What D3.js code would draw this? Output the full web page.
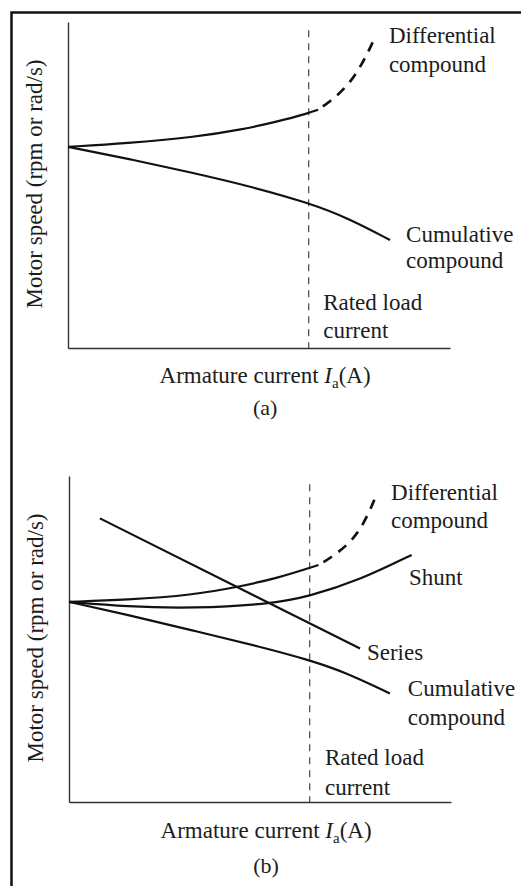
<!DOCTYPE html>
<html>
<head>
<meta charset="utf-8">
<script src="https://cdn.jsdelivr.net/npm/d3@7"></script>
<style>
  body { margin: 0; background: #fff; }
  text { font-family: "Liberation Serif", "Times New Roman", serif; fill: #1c1c1c; }
</style>
</head>
<body>
<div id="chart"></div>
<script>
// all values in axis units: armature current 0..10, motor speed 0..10
const ratedCurrent = 6.3;

// panel (a)
const diffA     = [[0,6.17],[1.54,6.28],[3.28,6.46],[4.59,6.71],[5.46,6.94],[6.29,7.20],[6.55,7.31]];
const diffDashA = [[6.55,7.31],[6.86,7.56],[7.30,8.01],[7.64,8.59],[7.85,9.06],[8.04,9.54]];
const cumA      = [[0,6.17],[1.6,5.80],[3.2,5.39],[4.7,4.98],[6.29,4.46],[7.4,3.95],[8.43,3.31]];

// panel (b)
const diffB     = [[0,6.14],[1.51,6.20],[3.25,6.35],[4.39,6.59],[5.44,6.86],[6.53,7.27]];
const diffDashB = [[6.53,7.27],[6.83,7.47],[7.36,7.94],[7.70,8.50],[7.96,9.16],[8.04,9.42]];
const shuntB    = [[0,6.14],[1.51,5.99],[3.25,5.94],[5.26,6.07],[6.27,6.30],[7.62,6.81],[8.97,7.58]];
const seriesB   = [[0.81,8.70],[7.62,4.71]];
const cumB      = [[0,6.14],[1.51,5.75],[3.25,5.26],[5.01,4.76],[6.27,4.36],[7.19,4.00],[8.40,3.33]];

// label text with anchor in axis units
const labelsA = [
  ["Differential", 8.40, 9.36], ["compound", 8.40, 8.47],
  ["Cumulative", 8.85, 3.25], ["compound", 8.85, 2.45],
  ["Rated load", 6.68, 1.17], ["current", 6.68, 0.31]
];
const labelsB = [
  ["Differential", 8.43, 9.26], ["compound", 8.43, 8.41],
  ["Shunt", 8.90, 6.66],
  ["Series", 7.80, 4.36],
  ["Cumulative", 8.87, 3.25], ["compound", 8.87, 2.36],
  ["Rated load", 6.70, 1.13], ["current", 6.70, 0.21]
];

const W = 521, H = 886;
const svg = d3.select("#chart").append("svg")
  .attr("width", W).attr("height", H);

// page frame (left and top edges visible)
svg.append("rect")
  .attr("x", 11.5).attr("y", 12.5)
  .attr("width", W + 20).attr("height", H + 20)
  .attr("fill", "none").attr("stroke", "#111").attr("stroke-width", 2.5);

const x = d3.scaleLinear().domain([0, 10]).range([68, 450]);
const y = d3.scaleLinear().domain([0, 10]).range([348, 22]);

const line = d3.line().x(d => x(d[0])).y(d => y(d[1])).curve(d3.curveBasis);

function drawPanel(g, solid, dashed, labels, tag, xTitleY, tagY) {
  // axes: only the domain lines
  g.append("g").attr("transform", `translate(0,${y(0)})`)
    .call(d3.axisBottom(x).ticks(0).tickSizeOuter(0))
    .select(".domain").attr("stroke", "#333").attr("stroke-width", 1.4);
  g.append("g").attr("transform", `translate(${x(0)},0)`)
    .call(d3.axisLeft(y).ticks(0).tickSizeOuter(0))
    .select(".domain").attr("stroke", "#333").attr("stroke-width", 1.4);

  // rated load current marker
  g.append("line")
    .attr("x1", x(ratedCurrent)).attr("x2", x(ratedCurrent))
    .attr("y1", y(9.75)).attr("y2", y(0))
    .attr("stroke", "#555").attr("stroke-width", 1.3)
    .attr("stroke-dasharray", "7,6");

  solid.forEach(s => {
    g.append("path").attr("d", line(s))
      .attr("fill", "none").attr("stroke", "#111").attr("stroke-width", 2.2);
  });
  dashed.forEach(s => {
    g.append("path").attr("d", line(s))
      .attr("fill", "none").attr("stroke", "#111").attr("stroke-width", 2.7)
      .attr("stroke-dasharray", "0,6,10,8,10,8,10,8,10,8,10,8");
  });

  g.selectAll(".lbl").data(labels).enter().append("text")
    .attr("class", "lbl")
    .attr("x", d => x(d[1])).attr("y", d => y(d[2]))
    .attr("font-size", 23)
    .text(d => d[0]);

  const xt = g.append("text")
    .attr("x", x(5.16)).attr("y", xTitleY)
    .attr("text-anchor", "middle").attr("font-size", 23);
  xt.append("tspan").text("Armature current ");
  xt.append("tspan").attr("font-style", "italic").text("I");
  xt.append("tspan").attr("font-size", 15).attr("dy", 5).text("a");
  xt.append("tspan").attr("dy", -5).text("(A)");

  g.append("text")
    .attr("x", x(5.16)).attr("y", tagY)
    .attr("text-anchor", "middle").attr("font-size", 22)
    .text(tag);

  g.append("text")
    .attr("transform", `translate(42,${y(5.03)}) rotate(-90)`)
    .attr("text-anchor", "middle").attr("font-size", 23)
    .text("Motor speed (rpm or rad/s)");
}

const gA = svg.append("g");
drawPanel(gA, [diffA, cumA], [diffDashA], labelsA, "(a)", 383, 415);

const gB = svg.append("g").attr("transform", "translate(1,454)");
drawPanel(gB, [diffB, shuntB, seriesB, cumB], [diffDashB], labelsB, "(b)", 384, 419);
</script>
</body>
</html>
